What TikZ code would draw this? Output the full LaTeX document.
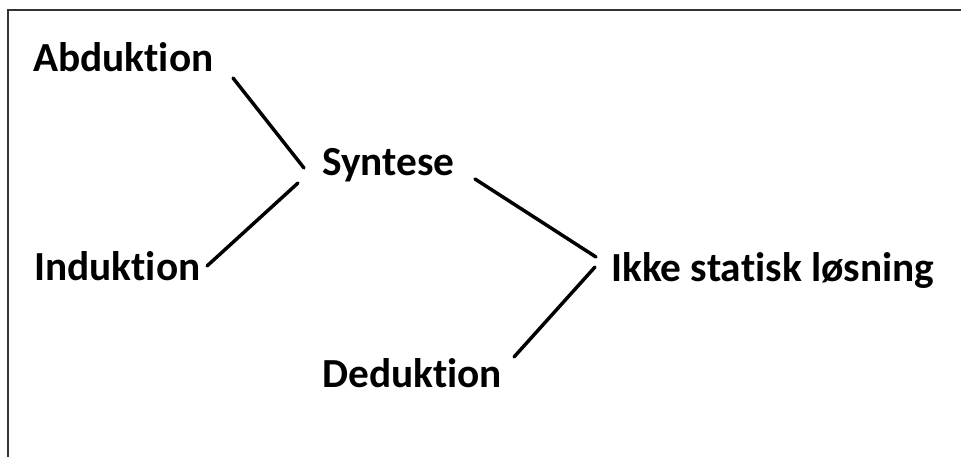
\documentclass[tikz,border=0pt]{standalone}
\usepackage{fontspec}
\setmainfont[Ligatures={NoCommon}]{Carlito}
\begin{document}
\begin{tikzpicture}[x=0.75pt,y=-0.75pt,
  lbl/.style={anchor=base west,inner sep=0pt,font=\fontsize{31}{37}\selectfont\bfseries},
  conn/.style={line width=2.6pt,line cap=round}]
\useasboundingbox (0,0) rectangle (961,457);
\draw[line width=1.6pt,color=black!80] (8,457) -- (8,10) -- (961,10);
\node[lbl] (abd) at (33,71) {Abduktion};
\node[lbl] (syn) at (322,175) {Syntese};
\node[lbl] (ind) at (34,280) {Induktion};
\node[lbl] (ikke) at (611,281) {Ikke statisk løsning};
\node[lbl] (ded) at (322,387) {Deduktion};
\coordinate (a1) at (233,78);
\coordinate (a2) at (304,168);
\coordinate (b1) at (298,183);
\coordinate (b2) at (207,266);
\coordinate (c1) at (475,179);
\coordinate (c2) at (596,257);
\coordinate (d1) at (595,267);
\coordinate (d2) at (514,357);
\draw[conn] (a1) -- (a2);
\draw[conn] (b1) -- (b2);
\draw[conn] (c1) -- (c2);
\draw[conn] (d1) -- (d2);
\end{tikzpicture}
\end{document}
